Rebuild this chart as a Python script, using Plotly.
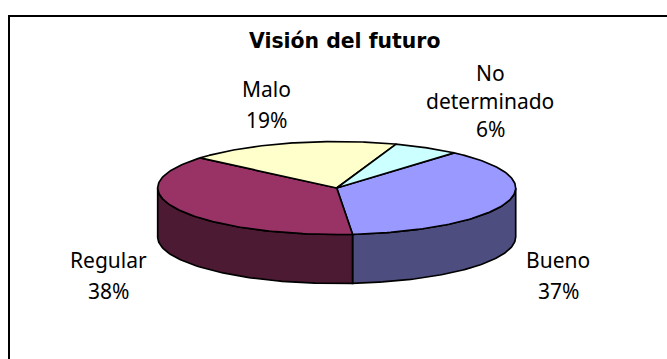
import numpy as np
import plotly.graph_objects as go

categories = ["Bueno", "Regular", "Malo", "No determinado"]
values = [37.2, 37.6, 19.2, 6.0]
top_colors = ["#9999FF", "#993366", "#FFFFCC", "#CCFFFF"]
side_colors = ["#4D4D80", "#4D1A33", "#808066", "#668080"]
label_lines = ["Bueno", "37%", "Regular", "38%", "Malo", "19%", "No", "determinado", "6%"]
line_x = [558, 558, 108, 108, 266, 266, 490, 490, 490]
line_y = [260, 291, 260, 291, 89, 120, 73, 101, 129]

W, H = 667, 359
CX, CY, A, B, DEPTH = 336.7, 188, 179, 46.5, 49
START = 49.0
FONT = "Noto Sans"

def ell(t):
    r = np.radians(t)
    return CX + A * np.cos(r), CY - B * np.sin(r)

fig = go.Figure()
fracs = np.array(values, float) / sum(values) * 360
ends = START - np.cumsum(fracs)
starts = ends + fracs

# side walls: only the front half of the rim (180..360 degrees) is visible
for s, e, c in zip(starts, ends, side_colors):
    for k in (0, -360, 360):
        hi, lo = min(s + k, 360), max(e + k, 180)
        if hi > lo:
            t = np.linspace(lo, hi, 80)
            x, y = ell(t)
            fig.add_trace(go.Scatter(
                x=np.r_[x, x[::-1], x[0]], y=np.r_[y, y[::-1] + DEPTH, y[0]],
                mode="lines", fill="toself", fillcolor=c,
                line=dict(color="black", width=1.7), hoverinfo="skip"))

# top face
for s, e, c in zip(starts, ends, top_colors):
    t = np.linspace(e, s, 120)
    x, y = ell(t)
    fig.add_trace(go.Scatter(
        x=np.r_[CX, x, CX], y=np.r_[CY, y, CY],
        mode="lines", fill="toself", fillcolor=c,
        line=dict(color="black", width=1.7), hoverinfo="skip"))

for txt, lx, ly in zip(label_lines, line_x, line_y):
    fig.add_annotation(x=lx, y=ly, text=txt, showarrow=False, yanchor="middle",
                       font=dict(family=FONT, size=21, color="black"), align="center")

fig.add_annotation(x=344, y=41, text="<b>Visión del futuro</b>", showarrow=False,
                   font=dict(family="DejaVu Sans", size=20.4, color="black"))

# chart frame, running off the right and bottom of the picture
fig.add_shape(type="rect", x0=9, y0=16, x1=W + 20, y1=H + 20,
              line=dict(color="black", width=2), fillcolor="white", layer="below")

fig.update_xaxes(range=[0, W], visible=False, fixedrange=True)
fig.update_yaxes(range=[H, 0], visible=False, fixedrange=True)
fig.update_layout(width=W, height=H, margin=dict(l=0, r=0, t=0, b=0), showlegend=False,
                  paper_bgcolor="white", plot_bgcolor="white")
fig.write_html("out.html", config={"displayModeBar": False},
               post_script="document.body.style.margin='0';document.documentElement.style.overflow='hidden';")
